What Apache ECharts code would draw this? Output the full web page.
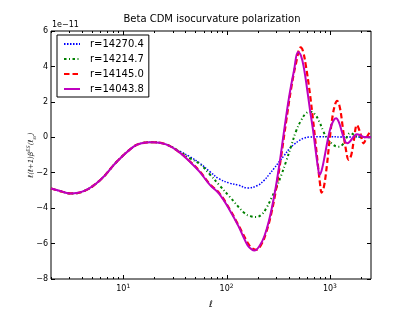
<!DOCTYPE html>
<html><head><meta charset="utf-8">
<script src="https://cdn.jsdelivr.net/npm/echarts@6/dist/echarts.min.js"></script>
<style>html,body{margin:0;padding:0;background:#fff}#c{width:413px;height:310px}</style>
</head><body><div id="c"></div>
<script>
const seriesNames = ['r=14270.4', 'r=14214.7', 'r=14145.0', 'r=14043.8'];

const ellBlue = [2,2.5,3.1,4.2,6,8.7,12.6,15,19,26,35,44,55,69,85,107,130,160,200,232,259,289,323,361,404,451,503,562,628,800,1000,1300,1600,2000,2500];
const valBlue = [-2.89,-3.05,-3.17,-3.03,-2.41,-1.37,-0.53,-0.34,-0.28,-0.40,-0.78,-1.09,-1.46,-1.94,-2.35,-2.59,-2.70,-2.86,-2.72,-2.42,-2.09,-1.75,-1.38,-1.03,-0.66,-0.4,-0.19,-0.05,0.01,0.03,0.03,0.02,0.02,0.01,0.01];

const ellGreen = [2,2.5,3.1,4.2,6,8.7,12.6,15,19,26,35,44,55,69,85,107,149,170,193,217,242.5,271,303,338,377.6,421.7,471,526,587,653,717,787,863,935,1056,1160,1219,1333,1425,1524,1575,1702,1830,2100,2500];
const valGreen = [-2.89,-3.05,-3.17,-3.03,-2.41,-1.37,-0.53,-0.34,-0.28,-0.40,-0.80,-1.18,-1.5,-2.1,-2.7,-3.35,-4.28,-4.45,-4.5,-4.38,-4.0,-3.45,-2.85,-2.15,-1.35,-0.5,0.35,0.95,1.35,1.44,1.3,0.9,0.35,-0.05,-0.38,-0.52,-0.53,-0.4,-0.1,0.2,0.24,0.15,0.05,0.0,0.0];

const ellRed = [2,2.5,3.1,4.2,6,8.7,12.6,15,19,26,35,44,55,69,85,107,130,160,175,193,217,242.5,271,303,338,377.6,421.7,471,522,550,587,628,671,717,767,802,832,875,935,1000,1069,1130,1175,1247,1333,1425,1524,1611,1702,1830,1972,2123,2270,2500];
const valRed = [-2.89,-3.05,-3.17,-3.03,-2.41,-1.37,-0.53,-0.34,-0.28,-0.40,-0.85,-1.35,-1.92,-2.65,-3.15,-4.05,-4.95,-5.95,-6.25,-6.35,-6.05,-5.35,-4.3,-2.85,-1.05,0.9,2.75,4.2,5.07,4.85,4.0,2.85,1.5,0.0,-1.6,-2.6,-3.12,-2.8,-1.6,0.0,1.3,1.9,2.06,1.7,0.55,-0.65,-1.28,-1.0,-0.2,0.69,0.22,-0.34,0.0,0.4];

const ellMag = [2,2.5,3.1,4.2,6,8.7,12.6,15,19,26,35,44,55,69,85,107,130,145,160,175,186,207.5,231.7,258.8,289.4,323.3,361.2,403.5,450.7,492,526,563,601,642,687,734,767,796,838,895,957,1023,1093,1149,1219,1303,1392,1465,1556,1663,1738,1830,1986,2171,2500];
const valMag = [-2.89,-3.05,-3.17,-3.03,-2.41,-1.37,-0.53,-0.34,-0.28,-0.40,-0.85,-1.37,-1.95,-2.69,-3.2,-4.1,-5.0,-5.6,-6.1,-6.33,-6.39,-6.15,-5.6,-4.65,-3.3,-1.6,0.4,2.3,3.8,4.82,4.6,3.85,2.75,1.55,0.4,-0.9,-1.7,-2.12,-1.8,-1.0,-0.1,0.6,0.98,1.07,0.87,0.33,-0.19,-0.34,-0.25,-0.03,0.1,0.17,0.1,0.0,0.0];

const xTickValues = [2,3,4,5,6,7,8,9,10,20,30,40,50,60,70,80,90,100,200,300,400,500,600,700,800,900,1000,2000];
const yMin = -8, yMax = 6, yStep = 2;
const xMin = 2, xMax = 2500;

function pairs(xs, ys){ return xs.map((x,i)=>[x, ys[i]]); }
function isPow10(v){ const l = Math.log10(v); return Math.abs(l - Math.round(l)) < 1e-9; }

const FONT = 'DejaVu Sans';
const chart = echarts.init(document.getElementById('c'), null, {renderer:'canvas'});

const lineDefs = [
  {name: seriesNames[0], data: pairs(ellBlue, valBlue), color:'#0000ff', width:1.5, type:[1.5,1.5]},
  {name: seriesNames[1], data: pairs(ellGreen, valGreen), color:'#008000', width:2, type:[2.5,2.5,1,2.5]},
  {name: seriesNames[2], data: pairs(ellRed, valRed), color:'#ff0000', width:2.2, type:[5.5,3]},
  {name: seriesNames[3], data: pairs(ellMag, valMag), color:'#bf00bf', width:2, type:'solid'}
];

const series = lineDefs.map(d => ({
  type:'line', name:d.name, data:d.data, smooth:0.4, symbol:'none', showSymbol:false,
  lineStyle:{color:d.color, width:d.width, type:d.type}, itemStyle:{color:d.color},
  xAxisIndex:0, yAxisIndex:0, z:3, animation:false
}));

series.push({
  type:'custom', name:'xticks', xAxisIndex:0, yAxisIndex:0, silent:true, z:5, animation:false,
  data: xTickValues.map(v => [v, 0]),
  encode:{x:0, y:1},
  renderItem: function(params, api){
    const v = api.value(0);
    const x = Math.round(api.coord([v, 0])[0]) + 0.5;
    const cs = params.coordSys;
    const len = isPow10(v) ? 4 : 2;
    const yb = cs.y + cs.height, yt = cs.y;
    return {type:'group', children:[
      {type:'line', shape:{x1:x, y1:yb, x2:x, y2:yb-len}, style:{stroke:'#000', lineWidth:1}},
      {type:'line', shape:{x1:x, y1:yt, x2:x, y2:yt+len}, style:{stroke:'#000', lineWidth:1}}
    ]};
  }
});

const yAxisBase = {
  type:'value', min:yMin, max:yMax, interval:yStep,
  splitLine:{show:false}, axisLine:{show:false},
  axisTick:{show:true, inside:true, length:4, lineStyle:{color:'#000', width:1}}
};

chart.setOption({
  animation:false,
  backgroundColor:'#fff',
  title:{text:'Beta CDM isocurvature polarization', left:212, top:14, padding:0, textAlign:'center',
    textStyle:{fontFamily:FONT, fontSize:10, fontWeight:'normal', color:'#000'}},
  graphic:[{type:'text', left:52, top:21, style:{text:'1e\u221211', fontFamily:FONT, fontSize:8, fill:'#000'}}],
  legend:{
    data: seriesNames, orient:'vertical', left:57, top:35,
    itemWidth:16, itemHeight:10, itemGap:5,
    itemStyle:{color:'rgba(0,0,0,0)', borderWidth:0, opacity:0},
    padding:[4,5,3,6], borderColor:'#000', borderWidth:1, backgroundColor:'#fff',
    textStyle:{fontFamily:FONT, fontSize:10, color:'#000', padding:[0,0,0,5]}
  },
  grid:{left:51, right:42, top:31, bottom:31, containLabel:false, outerBoundsMode:'none',
    show:true, borderColor:'#000', borderWidth:1, backgroundColor:'transparent'},
  xAxis:[{
    type:'log', logBase:10, min:xMin, max:xMax,
    splitLine:{show:false}, axisLine:{show:false}, axisTick:{show:false},
    axisLabel:{show:true, margin:4, showMinLabel:true, showMaxLabel:true,
      formatter: function(v){ if(!isPow10(v)) return ''; return '{b|10}{s|' + Math.round(Math.log10(v)) + '}'; },
      rich:{b:{fontFamily:FONT, fontSize:8, color:'#000', verticalAlign:'bottom'},
            s:{fontFamily:FONT, fontSize:6, color:'#000', verticalAlign:'bottom', padding:[0,0,4,0]}}},
    name:'\u2113', nameLocation:'middle', nameGap:21, nameMoveOverlap:false,
    nameTextStyle:{fontFamily:FONT, fontSize:9, fontStyle:'italic', color:'#000'}
  }],
  yAxis:[
    Object.assign({}, yAxisBase, {
      position:'left',
      axisLabel:{show:true, margin:3, fontFamily:FONT, fontSize:8, color:'#000',
        formatter: v => v < 0 ? '\u2212' + (-v) : String(v)},
      name:'{n|\u2113(\u2113+1)\u03b2}{p|ES}{n|(\u2113}{q|sr}{n|)}', nameLocation:'middle', nameGap:16, nameRotate:90, nameMoveOverlap:false,
      nameTextStyle:{color:'#000', rich:{
        n:{fontFamily:FONT, fontSize:7, fontStyle:'italic', color:'#333', verticalAlign:'bottom'},
        p:{fontFamily:FONT, fontSize:5, fontStyle:'italic', color:'#333', verticalAlign:'bottom', padding:[0,0,4,0]},
        q:{fontFamily:FONT, fontSize:5, fontStyle:'italic', color:'#333', verticalAlign:'bottom', padding:[0,0,-2,0]}
      }}
    }),
    Object.assign({}, yAxisBase, {position:'right', axisLabel:{show:false}})
  ],
  series: series
});
</script></body></html>
